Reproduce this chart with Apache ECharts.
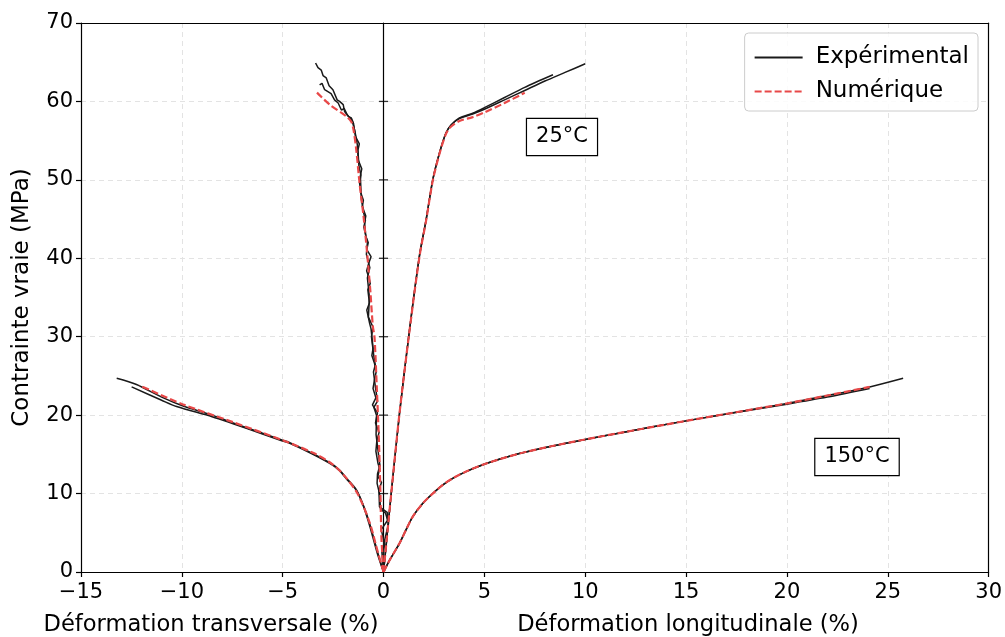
<!DOCTYPE html>
<html><head><meta charset="utf-8">
<script src="https://cdn.jsdelivr.net/npm/echarts@6/dist/echarts.min.js"></script>
<style>html,body{margin:0;padding:0;background:#fff}#c{width:1005px;height:637px}</style>
</head><body><div id="c"></div>
<script>
// ---- data (strain %, true stress MPa) ----
const xTicks = [-15,-10,-5,0,5,10,15,20,25,30];
const yTicks = [0,10,20,30,40,50,60,70];

const exp25LongA = [[0,0],[0.38,10],[0.79,20.2],[1.27,30.5],[1.78,40.3],[2.11,44.9],[2.44,50],[2.77,53.4],[3.1,56],[3.35,57],[3.76,57.8],[4.42,58.4],[5,59],[6,60.2],[7,61.4],[8,62.6],[9,63.7],[10,64.8]];
const exp25LongB = [[0,0],[0.38,10],[0.79,20.2],[1.27,30.5],[1.78,40.3],[2.11,44.9],[2.44,50],[2.77,53.4],[3.1,56],[3.35,57],[3.76,57.9],[4.42,58.5],[5,59.2],[6,60.5],[7,61.8],[8.4,63.4]];
const num25Long = [[0,0],[0.38,10],[0.79,20.2],[1.27,30.4],[1.78,40.2],[2.11,44.8],[2.44,49.9],[2.77,53.3],[3.1,55.9],[3.35,56.8],[3.76,57.5],[4.42,58.0],[5,58.6],[6,59.8],[7,61.1]];

const exp150LongA = [[0,0],[0.05,0.25],[0.3,1.5],[0.79,3.66],[1.12,5.4],[1.45,7.06],[1.95,8.76],[2.44,10.0],[2.94,11.1],[3.43,11.95],[4.09,12.8],[5.05,13.8],[6.73,15.1],[8.38,16.07],[10,16.9],[11.65,17.7],[15.07,19.3],[20,21.5],[22,22.5],[24.1,23.6],[25.76,24.7]];
const exp150LongB = [[0,0],[0.05,0.25],[0.3,1.5],[0.79,3.66],[1.12,5.4],[1.45,7.06],[1.95,8.76],[2.44,10.0],[2.94,11.1],[3.43,11.95],[4.09,12.8],[5.05,13.8],[6.73,15.1],[8.38,16.07],[10,16.9],[11.65,17.7],[15.07,19.3],[20,21.4],[22,22.3],[24.1,23.4]];
const num150Long = [[0,0],[0.05,0.25],[0.3,1.5],[0.79,3.66],[1.12,5.4],[1.45,7.06],[1.95,8.76],[2.44,10.0],[2.94,11.1],[3.43,11.95],[4.09,12.8],[5.05,13.8],[6.73,15.1],[8.38,16.07],[10,16.9],[11.65,17.7],[15.07,19.3],[20,21.5],[22,22.5],[24.1,23.6]];

const exp25TransA = [[0,0],[-0.03,2.0],[0.05,3.5],[-0.11,5.4],[0.2,6.6],[0.18,7.6],[-0.2,8.3],[-0.23,10.5],[-0.1,11.4],[-0.28,12.2],[-0.2,13.2],[-0.28,13.9],[-0.38,15.4],[-0.33,16.8],[-0.22,17.8],[-0.40,19.0],[-0.3,20.3],[-0.55,21.3],[-0.38,22.2],[-0.52,23.4],[-0.45,24.5],[-0.36,25.6],[-0.45,26.6],[-0.58,27.6],[-0.52,28.5],[-0.56,29.6],[-0.62,31.0],[-0.69,31.7],[-0.83,33.4],[-0.70,34.3],[-0.78,36.0],[-0.66,36.8],[-0.72,37.5],[-0.84,38.4],[-0.73,39.4],[-0.62,40.2],[-0.83,41.1],[-0.76,42.0],[-0.88,42.8],[-0.94,44.5],[-0.88,45.4],[-1.05,46.6],[-1.0,47.4],[-1.12,48.3],[-1.19,49.6],[-1.12,50.6],[-1.22,51.7],[-1.27,53.8],[-1.2,54.6],[-1.39,55.5],[-1.49,57.2],[-1.6,57.9],[-1.75,58.1],[-1.93,58.7],[-2.0,59.6],[-2.18,60.0],[-2.3,60.2],[-2.51,61.5],[-2.7,62.0],[-2.84,63.0],[-3.0,63.3],[-3.09,64.0],[-3.25,64.3],[-3.37,64.9]];
const exp25TransB = [[0,0],[-0.08,2.5],[0.12,4.8],[0.25,6.2],[0.1,7.5],[-0.15,8.0],[-0.2,10.0],[-0.32,11.3],[-0.3,12.5],[-0.18,13.6],[-0.25,15.0],[-0.37,17.5],[-0.35,20.0],[-0.48,21.0],[-0.3,21.8],[-0.4,23.5],[-0.5,25.5],[-0.41,26.4],[-0.48,27.5],[-0.6,30.0],[-0.52,31.2],[-0.75,32.5],[-0.7,35.0],[-0.8,37.5],[-0.68,38.8],[-0.85,40.5],[-0.8,42.0],[-0.98,44.0],[-0.9,44.8],[-1.0,46.0],[-1.1,47.5],[-1.15,50.5],[-1.08,51.4],[-1.25,52.5],[-1.3,54.5],[-1.42,56.2],[-1.55,57.5],[-1.8,58.3],[-1.95,59.1],[-2.09,58.9],[-2.25,59.8],[-2.43,60.2],[-2.6,61.0],[-2.92,61.5],[-3.05,62.3],[-3.17,62.1]];
const num25Trans = [[0,0],[-0.1,4.1],[-0.16,10.5],[-0.23,16.8],[-0.33,23.2],[-0.45,30.0],[-0.53,31.3],[-0.66,36.0],[-0.83,41.1],[-0.99,45.3],[-1.19,49.6],[-1.35,53.8],[-1.49,56.4],[-1.6,57.4],[-1.85,58.1],[-2.67,59.6],[-3.37,61.3]];

const exp150TransA = [[0,0],[-0.28,2.4],[-0.69,6.2],[-1.0,8.5],[-1.35,10.5],[-1.85,12.0],[-2.18,13.0],[-2.51,13.7],[-3.5,15.1],[-4.65,16.5],[-5.01,16.8],[-6,17.7],[-7.46,19.0],[-8.5,20.0],[-9.97,21.2],[-11,22.3],[-12.25,23.9],[-13.23,24.7]];
const exp150TransB = [[0,0],[-0.3,2.3],[-0.7,6.0],[-1.0,8.4],[-1.35,10.4],[-1.85,11.9],[-2.18,12.9],[-2.51,13.6],[-3.5,15.0],[-4.65,16.4],[-5.01,16.7],[-6,17.6],[-7.46,18.9],[-8.5,19.8],[-10.26,21.1],[-11,21.9],[-12.49,23.6]];
const num150Trans = [[0,0],[-0.28,2.5],[-0.69,6.3],[-1.27,9.9],[-1.85,12.0],[-2.51,13.7],[-3.5,15.2],[-5.01,16.8],[-7.46,19.1],[-9.97,21.4],[-12.1,23.8]];

const FONT = 'DejaVu Sans';
const FS = 21;     // tick labels, annotations
const FL = 23;     // axis titles, legend
const BLACK = '#1a1a1a';
const RED = '#e84848';

const expSets = [[exp25LongA,0.25],[exp25LongB,0.25],[exp150LongA,0.3],[exp150LongB,0.3],[exp25TransA,0],[exp25TransB,0],[exp150TransA,0.3],[exp150TransB,0.3]];
const numSets = [num25Long, num150Long, num25Trans, num150Trans];

const series = [];
expSets.forEach(([d,s]) => series.push({name:'Expérimental', type:'line', data:d, symbol:'none', smooth:s,
  lineStyle:{color:BLACK, width:1.5}, itemStyle:{color:BLACK}, z:2}));
numSets.forEach(d => series.push({name:'Numérique', type:'line', data:d, symbol:'none', smooth:0.3,
  lineStyle:{color:RED, width:2.2, type:[7,3]}, itemStyle:{color:RED}, z:3}));
// tick marks crossing the x = 0 line
series.push({name:'zeroTicks', type:'scatter', silent:true, z:5,
  data: yTicks.filter(v => v > 0 && v < 70).map(v => [0, v]),
  symbol:'rect', symbolSize:[9,1.3], itemStyle:{color:'#000'}});

const fmt = v => String(v).replace('-', '\u2212');

const chart = echarts.init(document.getElementById('c'), null, {renderer:'canvas'});
chart.setOption({
  animation:false,
  backgroundColor:'#fff',
  grid:{left:81, right:15, top:23, bottom:65},
  legend:{
    data:['Expérimental','Numérique'], orient:'vertical', right:27, top:33,
    itemWidth:48, itemHeight:14, itemGap:11, padding:[13,9,8,9],
    itemStyle:{opacity:0},
    backgroundColor:'rgba(255,255,255,0.85)', borderColor:'#cccccc', borderWidth:1, borderRadius:4,
    textStyle:{fontFamily:FONT, fontSize:FL, color:'#000', padding:[0,0,0,8]}
  },
  xAxis:[{
    type:'value', min:-15, max:30, interval:5,
    axisLine:{onZero:false, lineStyle:{color:'#000', width:1.2}},
    axisTick:{length:5, lineStyle:{color:'#000', width:1.2}},
    axisLabel:{fontFamily:FONT, fontSize:FS, color:'#000', margin:10, formatter:fmt},
    splitLine:{show:true, lineStyle:{color:'#e3e3e3', type:[5,4], width:1}}
  },{
    type:'value', min:-15, max:30, interval:5, position:'top',
    axisLine:{show:true, onZero:false, lineStyle:{color:'#000', width:1.2}},
    axisTick:{show:false}, axisLabel:{show:false}, splitLine:{show:false}
  }],
  yAxis:[{
    type:'value', min:0, max:70, interval:10,
    name:'Contrainte vraie (MPa)', nameLocation:'middle', nameGap:47,
    nameTextStyle:{fontFamily:FONT, fontSize:FL, color:'#000'},
    axisLine:{onZero:false, lineStyle:{color:'#000', width:1.2}},
    axisTick:{length:5, lineStyle:{color:'#000', width:1.2}},
    axisLabel:{fontFamily:FONT, fontSize:FS, color:'#000', margin:8},
    splitLine:{show:true, lineStyle:{color:'#e3e3e3', type:[5,4], width:1}}
  },{
    type:'value', min:0, max:70, interval:10, position:'right',
    axisLine:{show:true, onZero:false, lineStyle:{color:'#000', width:1.2}},
    axisTick:{show:false}, axisLabel:{show:false}, splitLine:{show:false}
  },{
    type:'value', min:0, max:70, interval:10, position:'left',
    axisLine:{show:true, onZero:true, lineStyle:{color:'#000', width:1.2}},
    axisTick:{show:false}, axisLabel:{show:false}, splitLine:{show:false}
  }],
  series:series,
  graphic:[
    {type:'text', x:211, y:625, z:10, style:{text:'Déformation transversale (%)', font:'22.6px '+FONT, fill:'#000', align:'center', verticalAlign:'middle'}},
    {type:'text', x:688, y:625, z:10, style:{text:'Déformation longitudinale (%)', font:'22.6px '+FONT, fill:'#000', align:'center', verticalAlign:'middle'}},
    {type:'text', x:562, y:137, z:10, style:{text:'25°C', font:FS+'px '+FONT, fill:'#000', align:'center', verticalAlign:'middle', backgroundColor:'#fff', borderColor:'#000', borderWidth:1.2, padding:[8,9,7,9]}},
    {type:'text', x:857, y:457, z:10, style:{text:'150°C', font:FS+'px '+FONT, fill:'#000', align:'center', verticalAlign:'middle', backgroundColor:'#fff', borderColor:'#000', borderWidth:1.2, padding:[8,9,7,9]}}
  ]
});
</script></body></html>
